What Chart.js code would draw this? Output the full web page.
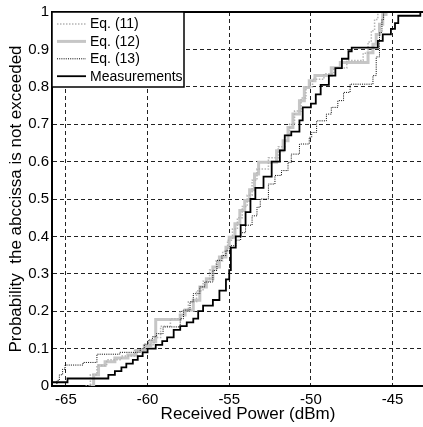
<!DOCTYPE html>
<html>
<head>
<meta charset="utf-8">
<script src="https://cdn.jsdelivr.net/npm/chart.js@4"></script>
<style>
  html, body { margin: 0; padding: 0; background: #fff; overflow: hidden; }
  #wrap { width: 423px; height: 427px; overflow: hidden; }
</style>
</head>
<body>
<div id="wrap"><canvas id="myChart" width="444" height="427"></canvas></div>
<script>
// Values (received power in dBm, cumulative probability)
let seriesNames = ['Eq. (11)', 'Eq. (12)', 'Eq. (13)', 'Measurements'];

let eq11Power = [-63.8, -63.5, -63.1, -62.5, -61.6, -60.8, -60.1, -59.6, -59.2, -58.6, -58.0, -57.5, -57.0, -56.6, -56.2, -55.8, -55.4, -55.1, -54.8, -54.5, -54.2, -53.9, -53.6, -53.3, -52.6, -52.0, -51.6, -51.3, -51.0, -50.6, -50.3, -49.9, -49.2, -48.6, -47.8, -46.8, -46.5, -46.3, -46.1, -45.9];
let eq11Prob = [0.0, 0.03, 0.055, 0.07, 0.08, 0.095, 0.11, 0.13, 0.16, 0.18, 0.2, 0.225, 0.255, 0.28, 0.31, 0.335, 0.36, 0.39, 0.42, 0.45, 0.48, 0.51, 0.55, 0.58, 0.61, 0.64, 0.67, 0.70, 0.735, 0.77, 0.80, 0.82, 0.835, 0.85, 0.87, 0.89, 0.92, 0.95, 0.98, 1.0];

let eq12Power = [-63.5, -63.3, -63.0, -62.6, -62.0, -61.2, -60.7, -60.2, -59.8, -59.5, -58.0, -57.7, -57.2, -56.8, -56.4, -56.0, -55.6, -55.2, -55.0, -54.65, -54.35, -54.05, -53.75, -53.45, -53.2, -52.1, -51.7, -51.4, -51.1, -50.7, -50.4, -50.1, -49.75, -48.75, -48.2, -46.5, -46.2, -46.0, -45.8, -45.6, -45.4];
let eq12Prob = [0.0, 0.03, 0.055, 0.065, 0.075, 0.083, 0.095, 0.108, 0.118, 0.178, 0.19, 0.203, 0.229, 0.265, 0.287, 0.318, 0.345, 0.371, 0.398, 0.434, 0.469, 0.496, 0.525, 0.567, 0.598, 0.629, 0.656, 0.691, 0.727, 0.763, 0.798, 0.816, 0.83, 0.851, 0.865, 0.891, 0.914, 0.94, 0.967, 0.993, 1.0];

let eq13Power = [-65.7, -65.55, -65.4, -65.2, -65.05, -63.95, -63.1, -61.7, -60.45, -60.2, -59.95, -59.7, -59.45, -59.05, -58.0, -57.8, -57.4, -57.2, -56.8, -56.5, -56.0, -55.75, -55.45, -55.2, -54.95, -54.6, -54.3, -54.0, -53.6, -53.3, -53.1, -52.6, -52.2, -51.8, -51.4, -51.2, -50.7, -50.1, -49.95, -49.65, -49.05, -48.75, -48.35, -48.0, -47.6, -46.2, -46.0, -45.8, -45.65, -45.55];
let eq13Prob = [0.0, 0.015, 0.03, 0.045, 0.056, 0.063, 0.085, 0.09, 0.10, 0.112, 0.123, 0.132, 0.14, 0.158, 0.18, 0.203, 0.225, 0.247, 0.265, 0.278, 0.309, 0.336, 0.349, 0.363, 0.375, 0.39, 0.41, 0.43, 0.455, 0.478, 0.50, 0.54, 0.563, 0.576, 0.598, 0.62, 0.647, 0.665, 0.678, 0.709, 0.727, 0.745, 0.763, 0.785, 0.807, 0.83, 0.88, 0.945, 0.98, 1.0];

let measPower = [-65.8, -64.9, -62.4, -62.0, -61.6, -61.3, -60.9, -60.6, -60.3, -60.0, -59.5, -59.1, -58.8, -58.4, -58.0, -57.6, -57.2, -56.9, -56.6, -56.0, -55.6, -55.2, -55.0, -54.9, -54.6, -54.3, -54.0, -53.7, -53.4, -52.9, -52.4, -51.9, -51.6, -51.2, -50.7, -50.5, -50.0, -49.7, -49.4, -48.9, -48.5, -48.1, -47.7, -47.5, -45.9, -45.6, -45.1, -44.85, -44.65, -43.3];
let measProb = [0.01, 0.02, 0.03, 0.04, 0.05, 0.06, 0.07, 0.08, 0.09, 0.10, 0.11, 0.12, 0.13, 0.15, 0.16, 0.17, 0.18, 0.20, 0.215, 0.23, 0.255, 0.285, 0.31, 0.37, 0.40, 0.43, 0.465, 0.50, 0.53, 0.56, 0.60, 0.63, 0.67, 0.68, 0.71, 0.745, 0.755, 0.78, 0.805, 0.83, 0.85, 0.875, 0.895, 0.905, 0.923, 0.94, 0.955, 0.97, 0.99, 1.0];

let xTicks = [-65, -60, -55, -50, -45];
let yTicks = [0, 0.1, 0.2, 0.3, 0.4, 0.5, 0.6, 0.7, 0.8, 0.9, 1];
let yTickLabels = ['0', '0.1', '0.2', '0.3', '0.4', '0.5', '0.6', '0.7', '0.8', '0.9', '1'];

function toPoints(xs, ys) {
    return xs.map(function (x, i) { return { x: x, y: ys[i] }; });
}

let fontFamily = '"Liberation Sans", Arial, Helvetica, sans-serif';

let styles = [
    { color: '#b4b4b4', width: 1.5, dash: [1.5, 1.5] },
    { color: '#c6c6c6', width: 3, dash: [] },
    { color: '#000000', width: 1, dash: [1, 1.2] },
    { color: '#000000', width: 1.8, dash: [] }
];

// legend box in the upper left corner of the plot, plus the top border of the box
let boxPlugin = {
    id: 'boxPlugin',
    afterDatasetsDraw: function (chart) {
        let ctx = chart.ctx;
        let area = chart.chartArea;
        ctx.save();
        ctx.strokeStyle = '#000';
        ctx.lineWidth = 2;
        ctx.beginPath();
        ctx.moveTo(area.left, area.top);
        ctx.lineTo(area.right, area.top);
        ctx.stroke();

        let bx = area.left, by = area.top, bw = 132, bh = 75;
        ctx.fillStyle = '#fff';
        ctx.fillRect(bx, by, bw, bh);
        ctx.lineWidth = 1.5;
        ctx.strokeRect(bx, by, bw, bh);

        ctx.font = '14px ' + fontFamily;
        ctx.textBaseline = 'middle';
        ctx.textAlign = 'left';
        seriesNames.forEach(function (name, i) {
            let yy = by + 12 + i * 17.4;
            let s = styles[i];
            ctx.strokeStyle = s.color;
            ctx.lineWidth = s.width;
            ctx.setLineDash(s.dash);
            ctx.beginPath();
            ctx.moveTo(bx + 5, yy);
            ctx.lineTo(bx + 34, yy);
            ctx.stroke();
            ctx.setLineDash([]);
            ctx.fillStyle = '#000';
            ctx.fillText(name, bx + 38, yy + 0.5);
        });
        ctx.restore();
    }
};

let allSeries = [
    toPoints(eq11Power, eq11Prob),
    toPoints(eq12Power, eq12Prob),
    toPoints(eq13Power, eq13Prob),
    toPoints(measPower, measProb)
];
let drawOrder = [2, 3, 1, 0];

let ctx = document.getElementById('myChart').getContext('2d');
let myChart = new Chart(ctx, {
    type: 'line',
    data: {
        datasets: allSeries.map(function (pts, i) {
            return {
                label: seriesNames[i],
                data: pts,
                borderColor: styles[i].color,
                borderWidth: styles[i].width,
                borderDash: styles[i].dash,
                stepped: true,
                pointRadius: 0,
                fill: false,
                order: drawOrder[i]
            };
        })
    },
    options: {
        responsive: false,
        animation: false,
        devicePixelRatio: 1,
        layout: { padding: { top: 11, right: 0, bottom: 0, left: 0 } },
        plugins: {
            legend: { display: false },
            tooltip: { enabled: false }
        },
        scales: {
            x: {
                type: 'linear',
                min: -65.85,
                max: -41.85,
                afterBuildTicks: function (scale) {
                    scale.ticks = xTicks.map(function (v) { return { value: v }; });
                },
                afterFit: function (scale) { scale.height = 41; },
                grid: { color: '#222', lineWidth: 1, drawTicks: false },
                border: { display: true, color: '#000', width: 2, dash: [4, 3] },
                ticks: {
                    padding: 5,
                    maxRotation: 0,
                    color: '#000',
                    font: { family: fontFamily, size: 15 },
                    callback: function (v) { return String(v); }
                },
                title: {
                    display: true,
                    text: 'Received Power (dBm)',
                    color: '#000',
                    font: { family: fontFamily, size: 17 },
                    padding: { top: 0, bottom: 2 }
                }
            },
            y: {
                type: 'linear',
                min: 0,
                max: 1,
                afterBuildTicks: function (scale) {
                    scale.ticks = yTicks.map(function (v) { return { value: v }; });
                },
                afterFit: function (scale) { scale.width = 52; },
                grid: { color: '#222', lineWidth: 1, drawTicks: false },
                border: { display: true, color: '#000', width: 2, dash: [4, 3] },
                ticks: {
                    padding: 3,
                    color: '#000',
                    font: { family: fontFamily, size: 15 },
                    callback: function (v, i) { return yTickLabels[i]; }
                },
                title: {
                    display: true,
                    text: 'Probability  the abccissa is not exceeded',
                    color: '#000',
                    font: { family: fontFamily, size: 17 },
                    padding: { top: 6, bottom: 0 }
                }
            }
        }
    },
    plugins: [boxPlugin]
});
</script>
</body>
</html>
